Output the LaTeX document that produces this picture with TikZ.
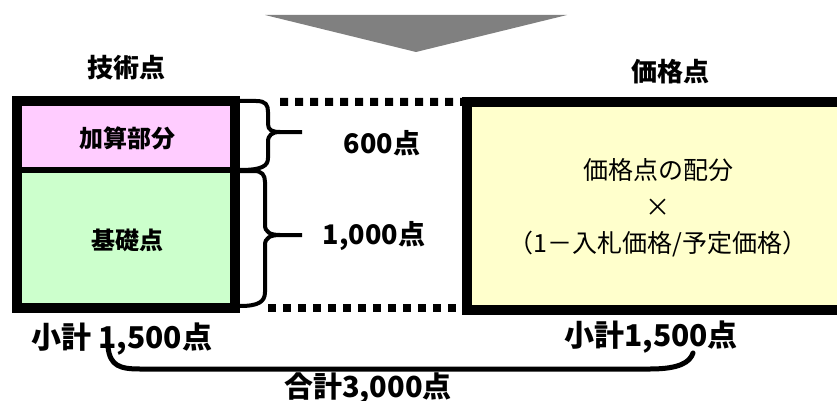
\documentclass[tikz,border=0pt]{standalone}
\usepackage{fontspec}
\setmainfont{Noto Sans CJK JP}
\definecolor{pinkfill}{HTML}{FFCCFF}
\definecolor{greenfill}{HTML}{CCFFCC}
\definecolor{yellowfill}{HTML}{FFFFCC}
\definecolor{arrowgray}{HTML}{808080}
\begin{document}
\begin{tikzpicture}[x=1pt,y=-1pt,
  lbl/.style={inner sep=0pt,font=\bfseries\fontsize{#1}{#1}\selectfont},
  lbl/.default=26,
  frame/.style={line width=10pt,draw=black},
  dotline/.style={line width=8pt,dash pattern=on 8pt off 7pt},
  bracestyle/.style={line width=4pt,line join=round},
  bigbrace/.style={line width=5pt,line cap=round}]
\useasboundingbox (0,0) rectangle (837,401);
% arrow
\fill[arrowgray] (265,15) -- (567,15) -- (416,52) -- cycle;
% left column
\node[fill=pinkfill,minimum width=218pt,minimum height=68.5pt,inner sep=0pt] (add) at (126,135.75) {};
\node[fill=greenfill,minimum width=218pt,minimum height=137.5pt,inner sep=0pt] (base) at (126,238.75) {};
\draw[frame] (add.north west) rectangle (base.south east);
\draw[line width=6pt] (add.south west) -- (add.south east);
\node[lbl=24] (addt) at (127,138) {加算部分};
\node[lbl=24] (baset) at (127,240) {基礎点};
% right box
\node[fill=yellowfill,minimum width=377.5pt,minimum height=208pt,inner sep=0pt] (price) at (656.25,206) {};
\draw[frame] (price.south east) -- (price.south west) -- (price.north west) -- (price.north east);
\node[inner sep=0pt,align=center,font=\fontsize{25}{36.5}\selectfont] (pricet) at (658,208) {価格点の配分\\×\\（1－入札価格/予定価格）};
% dotted lines
\coordinate (dtl) at (280,102);
\coordinate (dbl) at (268,308);
\draw[dotline] (dtl) -- (price.north west -| price.west);
\draw[dotline] (dbl) -- (467.5,308);
% braces
\coordinate (tip1) at (302,132);
\coordinate (tip2) at (302,235);
\draw[bracestyle] (240,101) -- (256,101) .. controls (266,101) and (268,105) .. (268,112) -- (268,124) .. controls (268,130) and (272,132) .. (280,132) -- (tip1);
\draw[bracestyle] (280,132) .. controls (272,132) and (268,135) .. (268,142) -- (268,158) .. controls (268,166) and (262,170) .. (240,170);
\draw[bracestyle] (240,171) -- (254,171) .. controls (262,171) and (265,175) .. (265,182) -- (265,225) .. controls (265,232) and (270,235) .. (280,235) -- (tip2);
\draw[bracestyle] (280,235) .. controls (270,235) and (265,238) .. (265,245) -- (265,292) .. controls (265,302) and (258,306) .. (240,306);
% labels
\node[lbl=26] (tech) at (126,68) {技術点};
\node[lbl=26] (pr) at (670,72) {価格点};
\node[lbl=27] (p600) at (382,143) {600点};
\node[lbl=27] (p1000) at (374,236) {1,000点};
\node[lbl=30] (sub1) at (122,339) {小計 1,500点};
\node[lbl=30] (sub2) at (651,337) {小計1,500点};
\node[lbl=29] (total) at (368,388) {合計3,000点};
% bottom brace
\coordinate (bl) at (108,347);
\coordinate (br) at (693,353);
\draw[bigbrace] (bl) .. controls (110,366) and (120,369) .. (140,369) -- (650,369) .. controls (680,369) and (690,362) .. (br);
\end{tikzpicture}
\end{document}
